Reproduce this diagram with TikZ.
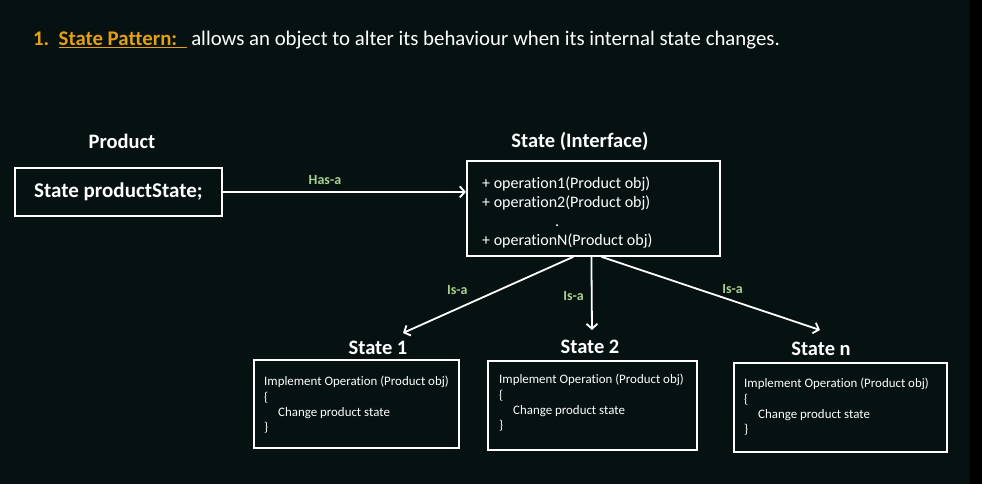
\documentclass[tikz,border=0pt]{standalone}
\usepackage{fontspec}
\setmainfont{Carlito}[Ligatures={NoCommon}]
\usetikzlibrary{positioning,arrows.meta}

\definecolor{bgdark}{RGB}{6,17,17}
\definecolor{titlegold}{RGB}{226,160,18}
\definecolor{relgreen}{RGB}{169,209,142}

\tikzset{
    classbox/.style={draw=white, line width=1.8pt, inner sep=0pt},
    heading/.style={text=white, inner sep=0pt, font=\fontsize{20.5}{23}\selectfont\bfseries},
    optext/.style={text=white, inner sep=0pt, align=left, font=\fontsize{16}{19}\selectfont},
    impltext/.style={text=white, inner sep=0pt, align=left, font=\fontsize{12.9}{15.4}\selectfont},
    rellabel/.style={text=relgreen, inner sep=0pt, font=\fontsize{14}{16}\selectfont\bfseries},
    relarrow/.style={draw=white, line width=1.8pt, -{Straight Barb[length=5pt,width=11pt]}}
}

\begin{document}
\begin{tikzpicture}[x=1pt,y=-1pt]
    % background
    \fill [bgdark] (0,0) rectangle (970,484);
    \fill [black] (970,0) rectangle (982,484);
    \useasboundingbox (0,0) rectangle (982,484);

    \node (title)
        at (33,46) [anchor=base west, inner sep=0pt, text=white,
                    font=\fontsize{20.8}{24}\selectfont]
        {\textcolor{titlegold}{\bfseries 1.\ \ \underline{State Pattern:\ \ }}\
         allows an object to alter its behaviour when its internal state changes.}
        ;

    % product
    \node [heading] (prodhead) at (122,141) {Product};
    \node [classbox, minimum width=207, minimum height=48, anchor=north west,
           text=white, font=\fontsize{21}{23}\selectfont\bfseries]
        (prod) at (14,167) {State productState;}
        ;

    % state interface
    \node [heading] (ifacehead) at (580,141) {State (Interface)};
    \node [classbox, minimum width=253, minimum height=95, anchor=north west]
        (iface) at (466,160) {};
    \node [optext, below right=17pt and 16pt of iface.north west] (ops)
        {+ operation1(Product obj)\\
         + operation2(Product obj)\\
         \hspace*{73pt}.\\
         + operationN(Product obj)};

    % concrete states
    \node [heading] (s1head) at (378,348) {State 1};
    \node [classbox, minimum width=205, minimum height=88, anchor=north west]
        (s1) at (253,359) {};
    \node [impltext, below right=17pt and 11pt of s1.north west] (s1text)
        {Implement Operation (Product obj)\\ \{\\ \hspace*{14pt}Change product state\\ \}};

    \node [heading] (s2head) at (590,347) {State 2};
    \node [classbox, minimum width=209, minimum height=89, anchor=north west]
        (s2) at (487,360) {};
    \node [impltext, below right=14pt and 12pt of s2.north west] (s2text)
        {Implement Operation (Product obj)\\ \{\\ \hspace*{14pt}Change product state\\ \}};

    \node [heading] (snhead) at (821,349) {State n};
    \node [classbox, minimum width=213, minimum height=89, anchor=north west]
        (sn) at (733,362) {};
    \node [impltext, below right=16pt and 11pt of sn.north west] (sntext)
        {Implement Operation (Product obj)\\ \{\\ \hspace*{14pt}Change product state\\ \}};

    % arrow ends
    \coordinate (e1) at (403,333);
    \coordinate (e2) at (592,330);
    \coordinate (en) at (820,330);

    \draw [relarrow] (prod.east) -- (prod.east -| iface.west)
        node [rellabel, pos=0.42, above=6pt] (hasa) {Has-a};
    \draw [relarrow] ([xshift=-20pt]iface.south) -- (e1)
        node [rellabel, pos=0.44, left=30pt] (isa1) {Is-a};
    \draw [relarrow] ([xshift=-2pt]iface.south) -- (e2)
        node [rellabel, pos=0.53, left=7pt] (isa2) {Is-a};
    \draw [relarrow] ([xshift=8pt]iface.south) -- (en)
        node [rellabel, pos=0.6, above=6pt] (isan) {Is-a};
\end{tikzpicture}
\end{document}
